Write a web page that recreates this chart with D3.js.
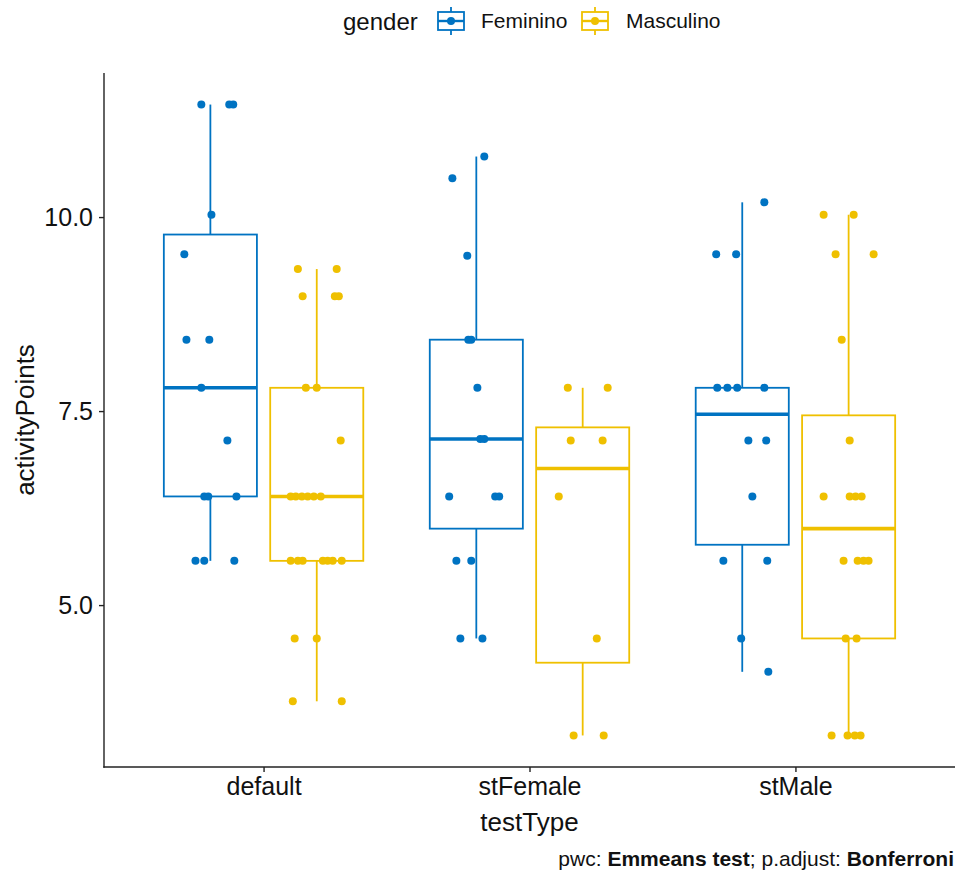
<!DOCTYPE html>
<html>
<head>
<meta charset="utf-8">
<script src="https://cdn.jsdelivr.net/npm/d3@7"></script>
<style>
  html, body { margin: 0; padding: 0; background: #fff; }
  svg { display: block; font-family: "Liberation Sans", Arial, Helvetica, sans-serif; }
</style>
</head>
<body>
<svg id="chart" width="959" height="873"></svg>
<script>
// Categories and groups
const testTypes = ["default", "stFemale", "stMale"];
const genders = ["Feminino", "Masculino"];
const genderColors = ["#0073C2", "#EFC000"];
const yTicks = [5.0, 7.5, 10.0];

// activityPoints per testType × gender, with horizontal jitter (in category units)
const defaultFeminino = [11.45, 11.45, 11.45, 10.03, 9.52, 8.42, 8.42, 7.80, 7.12, 6.40, 6.40, 6.40, 5.57, 5.57, 5.57];
const defaultFemininoJitter = [-0.034, 0.071, 0.086, 0.004, -0.098, -0.090, -0.004, -0.034, 0.064, -0.023, -0.008, 0.098, -0.056, -0.023, 0.090];

const defaultMasculino = [9.33, 9.33, 8.98, 8.98, 8.98, 7.80, 7.80, 7.12, 6.40, 6.40, 6.40, 6.40, 6.40, 6.40, 5.57, 5.57, 5.57, 5.57, 5.57, 5.57, 5.57, 4.57, 4.57, 3.76, 3.76];
const defaultMasculinoJitter = [-0.071, 0.075, -0.053, 0.068, 0.083, -0.041, 0.000, 0.090, -0.098, -0.079, -0.056, -0.034, -0.011, 0.015, -0.098, -0.071, -0.053, 0.023, 0.041, 0.060, 0.094, -0.083, 0.000, -0.090, 0.094];

const stFemaleFeminino = [10.78, 10.50, 9.50, 8.42, 8.42, 7.80, 7.14, 7.14, 6.40, 6.40, 6.40, 5.57, 5.57, 4.57, 4.57];
const stFemaleFemininoJitter = [0.030, -0.090, -0.034, -0.030, -0.019, 0.004, 0.015, 0.030, -0.102, 0.071, 0.086, -0.075, -0.019, -0.060, 0.023];

const stFemaleMasculino = [7.80, 7.80, 7.12, 7.12, 6.40, 4.57, 3.32, 3.32];
const stFemaleMasculinoJitter = [-0.056, 0.094, -0.045, 0.075, -0.090, 0.053, -0.034, 0.079];

const stMaleFeminino = [10.19, 9.52, 9.52, 7.80, 7.80, 7.80, 7.80, 7.12, 7.12, 6.40, 5.57, 5.57, 4.57, 4.14];
const stMaleFemininoJitter = [0.083, -0.098, -0.023, -0.094, -0.056, -0.019, 0.083, 0.023, 0.090, 0.038, -0.071, 0.094, -0.004, 0.098];

const stMaleMasculino = [10.03, 10.03, 9.52, 9.52, 8.42, 7.12, 6.40, 6.40, 6.40, 6.40, 5.57, 5.57, 5.57, 5.57, 4.57, 4.57, 3.32, 3.32, 3.32, 3.32];
const stMaleMasculinoJitter = [-0.094, 0.019, -0.049, 0.094, -0.026, 0.004, -0.094, 0.004, 0.026, 0.049, -0.019, 0.034, 0.056, 0.075, -0.011, 0.030, -0.064, -0.004, 0.023, 0.045];

const groups = [
  { testType: "default",  gender: "Feminino",  values: defaultFeminino,   jitter: defaultFemininoJitter },
  { testType: "default",  gender: "Masculino", values: defaultMasculino,  jitter: defaultMasculinoJitter },
  { testType: "stFemale", gender: "Feminino",  values: stFemaleFeminino,  jitter: stFemaleFemininoJitter },
  { testType: "stFemale", gender: "Masculino", values: stFemaleMasculino, jitter: stFemaleMasculinoJitter },
  { testType: "stMale",   gender: "Feminino",  values: stMaleFeminino,    jitter: stMaleFemininoJitter },
  { testType: "stMale",   gender: "Masculino", values: stMaleMasculino,   jitter: stMaleMasculinoJitter }
];

// Layout
const panel = { left: 104, right: 955, top: 73, bottom: 767 };
const svg = d3.select("#chart");

const allValues = groups.flatMap(g => g.values);
const vMin = d3.min(allValues), vMax = d3.max(allValues);
const pad = (vMax - vMin) * 0.05;
const y = d3.scaleLinear().domain([vMin - pad, vMax + pad]).range([panel.bottom, panel.top]);

const x = d3.scalePoint().domain(testTypes).range([panel.left, panel.right]).padding(0.6);
const step = x.step();
const color = d3.scaleOrdinal().domain(genders).range(genderColors);
const dodge = d3.scalePoint().domain(genders).range([-0.2, 0.2]);
const boxWidth = 0.35 * step;

// Box statistics (R type-7 quantiles, whiskers to 1.5 IQR)
groups.forEach(g => {
  const s = g.values.slice().sort(d3.ascending);
  g.q1 = d3.quantile(s, 0.25);
  g.med = d3.quantile(s, 0.5);
  g.q3 = d3.quantile(s, 0.75);
  const iqr = g.q3 - g.q1;
  g.lo = d3.min(s.filter(v => v >= g.q1 - 1.5 * iqr));
  g.hi = d3.max(s.filter(v => v <= g.q3 + 1.5 * iqr));
  g.cx = x(g.testType) + dodge(g.gender) * step;
});

const plot = svg.append("g");

// Whiskers
plot.selectAll("line.whisker-top").data(groups).join("line")
  .attr("x1", d => d.cx).attr("x2", d => d.cx)
  .attr("y1", d => y(d.q3)).attr("y2", d => y(d.hi))
  .attr("stroke", d => color(d.gender)).attr("stroke-width", 1.8);
plot.selectAll("line.whisker-bottom").data(groups).join("line")
  .attr("x1", d => d.cx).attr("x2", d => d.cx)
  .attr("y1", d => y(d.q1)).attr("y2", d => y(d.lo))
  .attr("stroke", d => color(d.gender)).attr("stroke-width", 1.8);

// Boxes
plot.selectAll("rect.box").data(groups).join("rect")
  .attr("x", d => d.cx - boxWidth / 2)
  .attr("width", boxWidth)
  .attr("y", d => y(d.q3))
  .attr("height", d => y(d.q1) - y(d.q3))
  .attr("fill", "#fff")
  .attr("stroke", d => color(d.gender))
  .attr("stroke-width", 1.8);

// Medians
plot.selectAll("line.median").data(groups).join("line")
  .attr("x1", d => d.cx - boxWidth / 2).attr("x2", d => d.cx + boxWidth / 2)
  .attr("y1", d => y(d.med)).attr("y2", d => y(d.med))
  .attr("stroke", d => color(d.gender)).attr("stroke-width", 3.6);

// Jittered points
const points = groups.flatMap(g => g.values.map((v, i) => ({ gender: g.gender, cx: g.cx, value: v, jit: g.jitter[i] })));
plot.selectAll("circle.pt").data(points).join("circle")
  .attr("cx", d => d.cx + d.jit * step)
  .attr("cy", d => y(d.value))
  .attr("r", 4)
  .attr("fill", d => color(d.gender));

// Axes
const axisColor = "#222";
const yAxis = svg.append("g").attr("transform", `translate(${panel.left},0)`)
  .call(d3.axisLeft(y).tickValues(yTicks).tickFormat(d3.format(".1f")).tickSize(5).tickPadding(6));
const xAxis = svg.append("g").attr("transform", `translate(0,${panel.bottom})`)
  .call(d3.axisBottom(x).tickSize(5).tickPadding(5));
[yAxis, xAxis].forEach(a => {
  a.select(".domain").remove();
  a.selectAll(".tick line").attr("stroke", axisColor).attr("stroke-width", 1.4);
  a.selectAll(".tick text").attr("fill", "#111").style("font-size", "25px").style("font-family", "Liberation Sans, Arial, sans-serif");
});
svg.append("line").attr("x1", panel.left).attr("x2", panel.left)
  .attr("y1", panel.top).attr("y2", panel.bottom + 0.7)
  .attr("stroke", axisColor).attr("stroke-width", 1.4);
svg.append("line").attr("x1", panel.left - 0.7).attr("x2", panel.right)
  .attr("y1", panel.bottom).attr("y2", panel.bottom)
  .attr("stroke", axisColor).attr("stroke-width", 1.4);

// Axis titles
svg.append("text")
  .attr("transform", `translate(34,${(panel.top + panel.bottom) / 2}) rotate(-90)`)
  .attr("text-anchor", "middle")
  .attr("fill", "#111")
  .style("font-size", "26px")
  .text("activityPoints");
svg.append("text")
  .attr("x", (panel.left + panel.right) / 2).attr("y", 831)
  .attr("text-anchor", "middle")
  .attr("fill", "#111")
  .style("font-size", "26px")
  .text("testType");

// Caption
const cap = svg.append("text")
  .attr("x", 954).attr("y", 866)
  .attr("text-anchor", "end")
  .attr("fill", "#111")
  .style("font-size", "21px");
cap.append("tspan").text("pwc: ");
cap.append("tspan").attr("font-weight", "bold").text("Emmeans test");
cap.append("tspan").text("; p.adjust: ");
cap.append("tspan").attr("font-weight", "bold").text("Bonferroni");

// Legend
const legend = svg.append("g");
legend.append("text").attr("x", 343).attr("y", 30)
  .attr("fill", "#111").style("font-size", "24px").text("gender");
const keyX = [451, 595];
const labelX = [481, 626];
genders.forEach((gName, i) => {
  const k = legend.append("g").attr("transform", `translate(${keyX[i]},21)`);
  const c = color(gName);
  k.append("line").attr("x1", 0).attr("x2", 0).attr("y1", -14).attr("y2", 14)
    .attr("stroke", c).attr("stroke-width", 1.8);
  k.append("rect").attr("x", -13).attr("y", -9).attr("width", 26).attr("height", 18)
    .attr("fill", "#fff").attr("stroke", c).attr("stroke-width", 1.8);
  k.append("line").attr("x1", -13).attr("x2", 13).attr("y1", 0).attr("y2", 0)
    .attr("stroke", c).attr("stroke-width", 2.4);
  k.append("circle").attr("r", 4).attr("fill", c);
  legend.append("text").attr("x", labelX[i]).attr("y", 28)
    .attr("fill", "#111").style("font-size", "21px").text(gName);
});
</script>
</body>
</html>
